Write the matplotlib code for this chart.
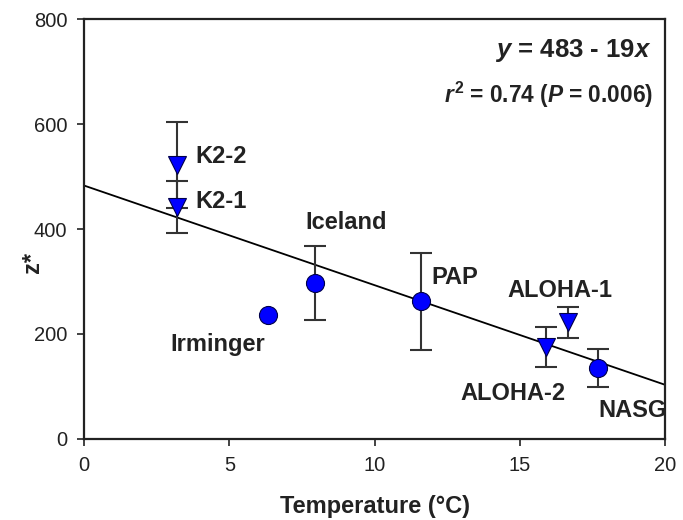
import matplotlib
matplotlib.use("Agg")
import matplotlib.pyplot as plt

plt.rcParams['font.family'] = ['Liberation Sans', 'DejaVu Sans']
plt.rcParams['mathtext.fontset'] = 'custom'
plt.rcParams['mathtext.rm'] = 'Liberation Sans:bold'
plt.rcParams['mathtext.it'] = 'Liberation Sans:bold:italic'
plt.rcParams['mathtext.bf'] = 'Liberation Sans:bold'

# Data
sites = ["K2-2", "K2-1", "Iceland", "Irminger", "PAP", "ALOHA-2", "ALOHA-1", "NASG"]
temps = [3.2, 3.2, 7.95, 6.33, 11.6, 15.9, 16.65, 17.7]
zstar = [522, 442, 297, 236, 262, 175, 222, 135]
zerr = [82, 50, 71, 0, 92, 38, 29, 36]
markers = ["v", "v", "o", "o", "o", "v", "v", "o"]
fit_intercept = 483
fit_slope = -19
x_ticks = [0, 5, 10, 15, 20]
y_ticks = [0, 200, 400, 600, 800]

# label anchor (data coords, baseline) and horizontal alignment
label_pos = {
    "K2-2": (3.82, 526, "left"),
    "K2-1": (3.82, 440, "left"),
    "Iceland": (9.02, 400, "center"),
    "Irminger": (2.96, 168, "left"),
    "PAP": (11.95, 295, "left"),
    "ALOHA-2": (12.94, 74, "left"),
    "ALOHA-1": (14.56, 270, "left"),
    "NASG": (17.69, 42, "left"),
}

fig = plt.figure(figsize=(6.83, 5.2), dpi=100)
ax = fig.add_axes([0.123, 0.156, 0.851, 0.807])

ax.plot([0, 20], [fit_intercept, fit_intercept + fit_slope * 20], color="black", lw=1.3, zorder=1)

for s, t, z, e, m in zip(sites, temps, zstar, zerr, markers):
    if e > 0:
        ax.errorbar(t, z, yerr=e, fmt="none", ecolor="#333333", elinewidth=1.5,
                    capsize=8, capthick=1.5, zorder=2)
    ms = 13 if m == "o" else 13.5
    ax.plot(t, z, marker=m, ms=ms, color="#0000ff", mec="#00004a", mew=0.8,
            ls="none", zorder=3)
    lx, ly, ha = label_pos[s]
    ax.text(lx, ly, s, ha=ha, va="baseline", fontsize=17, fontweight="bold",
            color="#222222", zorder=4)

ax.text(0.976, 0.9095, r"$y$ = 483 - 19$x$", transform=ax.transAxes, ha="right",
        va="baseline", fontsize=18.5, fontweight="bold", color="#222222")
ax.text(0.979, 0.80, r"$r^{2}$ = 0.74 ($P$ = 0.006)", transform=ax.transAxes, ha="right",
        va="baseline", fontsize=16.3, fontweight="bold", color="#222222")

ax.set_xlim(0, 20)
ax.set_ylim(0, 800)
ax.set_xticks(x_ticks)
ax.set_yticks(y_ticks)
ax.tick_params(direction="out", length=5, width=1.2, labelsize=14.5, colors="#222222", pad=7)
for sp in ax.spines.values():
    sp.set_linewidth(1.6)
    sp.set_color("#222222")

ax.set_xlabel("Temperature (°C)", fontsize=17, fontweight="bold", color="#222222", labelpad=15)
ax.set_ylabel("z*", fontsize=17, fontweight="bold", color="#222222")
ax.yaxis.set_label_coords(-0.068, 0.42)

fig.savefig("out.png", dpi=100)
